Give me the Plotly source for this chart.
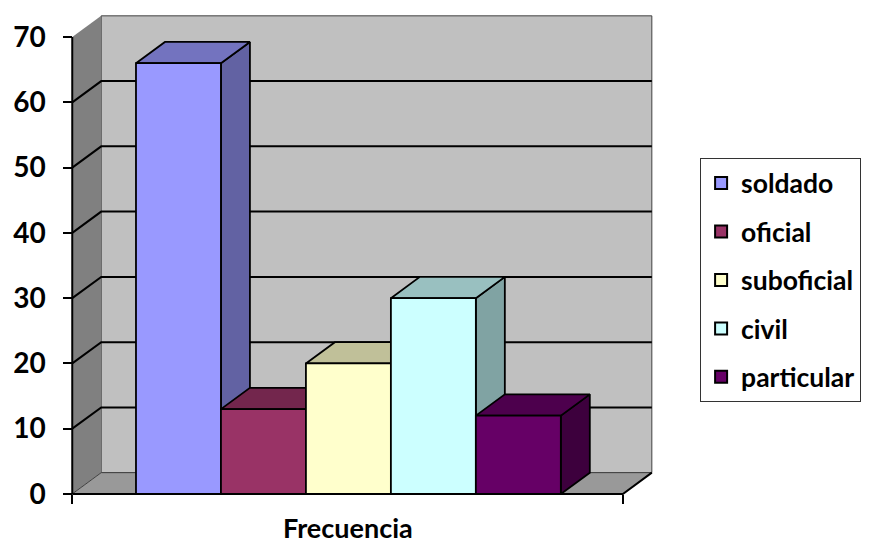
import plotly.graph_objects as go

# Survey data: one column per occupation category
categories = ["soldado", "oficial", "suboficial", "civil", "particular"]
values = [66, 13, 20, 30, 12]
front_colors = ["#9999FF", "#993366", "#FFFFCC", "#CCFFFF", "#660066"]
top_colors = ["#7373BF", "#73264D", "#C0C099", "#99C0C0", "#4D004D"]
side_colors = ["#6262A3", "#5C1F3D", "#A3A382", "#80A3A3", "#3D003D"]
y_ticks = [0, 10, 20, 30, 40, 50, 60, 70]
x_title = "Frecuencia"

# 3-D box geometry (axis units)
X0, X1 = -1.25, 5.23      # front edges of the floor
DX, DY = 0.341, 3.26      # depth offset of the back wall
Y_TOP = 70
BAR_W = 1.0

FONT = "Lato"
fig = go.Figure()


def poly(xs, ys, fill, line_color="black", line_width=0.0):
    fig.add_trace(go.Scatter(
        x=xs + [xs[0]], y=ys + [ys[0]], mode="lines", fill="toself",
        fillcolor=fill, line=dict(color=line_color, width=line_width),
        hoverinfo="skip", showlegend=False))


# back wall, side wall and floor
poly([X0 + DX, X1 + DX, X1 + DX, X0 + DX], [DY, DY, Y_TOP + DY, Y_TOP + DY],
     "#C0C0C0", "#404040", 1)
poly([X0, X0 + DX, X0 + DX, X0], [0, DY, Y_TOP + DY, Y_TOP], "#808080")
poly([X0, X1, X1 + DX, X0 + DX], [0, 0, DY, DY], "#999999")

# gridlines running across the side wall and the back wall
gx, gy = [], []
for v in y_ticks[1:-1]:
    gx += [X0, X0 + DX, X1 + DX, None]
    gy += [v, v + DY, v + DY, None]
fig.add_trace(go.Scatter(x=gx, y=gy, mode="lines", line=dict(color="black", width=2),
                         hoverinfo="skip", showlegend=False))
fig.add_trace(go.Scatter(x=[X0, X0 + DX, X1 + DX], y=[0, DY, DY], mode="lines",
                         line=dict(color="#404040", width=1),
                         hoverinfo="skip", showlegend=False))

# front floor edges and value axis line
fig.add_trace(go.Scatter(x=[X0, X1, X1 + DX], y=[0, 0, DY], mode="lines",
                         line=dict(color="black", width=2),
                         hoverinfo="skip", showlegend=False))
fig.add_trace(go.Scatter(x=[X0, X0], y=[0, Y_TOP], mode="lines",
                         line=dict(color="black", width=2),
                         hoverinfo="skip", showlegend=False))

# columns, painted left to right: side, top, then front face
for i, (name, v) in enumerate(zip(categories, values)):
    xl, xr = i - BAR_W / 2, i + BAR_W / 2
    poly([xr, xr + DX, xr + DX, xr], [0, DY, v + DY, v], side_colors[i], "black", 1.8)
    poly([xl, xr, xr + DX, xl + DX], [v, v, v + DY, v + DY], top_colors[i], "black", 1.8)
    poly([xl, xr, xr, xl], [0, 0, v, v], front_colors[i], "black", 1.8)

# legend keys
for i, name in enumerate(categories):
    fig.add_trace(go.Scatter(
        x=[None], y=[None], mode="markers", name=name, legendgroup=name,
        marker=dict(symbol="square", size=15, color=front_colors[i],
                    line=dict(color="black", width=1.5))))

XR = [-1.3, 5.62]
YR = [-2, 74]
fig.update_layout(
    width=878, height=547,
    margin=dict(l=68, r=222, t=11, b=40),
    paper_bgcolor="white", plot_bgcolor="white",
    font=dict(family=FONT, color="black"),
    showlegend=True,
    legend=dict(
        x=1.075, y=0.703, xanchor="left", yanchor="top",
        bgcolor="white", bordercolor="#333333", borderwidth=1,
        font=dict(family=FONT, size=26.5, color="black", weight="bold"),
        tracegroupgap=11, itemsizing="constant"),
    xaxis=dict(range=XR, showgrid=False, zeroline=False, showline=False,
               anchor="free", position=(0 - YR[0]) / (YR[1] - YR[0]),
               tickmode="array", tickvals=[X0, X1], ticktext=["", ""],
               ticks="outside", ticklen=9, tickwidth=1.5, tickcolor="black"),
    yaxis=dict(range=YR, showgrid=False, zeroline=False, showline=False,
               anchor="free", position=(X0 - XR[0]) / (XR[1] - XR[0]),
               tickmode="array", tickvals=y_ticks,
               ticks="outside", ticklen=9, tickwidth=1.5, tickcolor="black",
               ticklabelstandoff=12,
               tickfont=dict(family=FONT, size=28, color="black", weight="bold")),
    annotations=[dict(
        text=x_title, x=(X0 + X1) / 2, xref="x", y=-0.0423, yref="paper",
        xanchor="center", yanchor="middle", showarrow=False,
        font=dict(family=FONT, size=27, color="black", weight="bold"))],
)

fig.write_html("out.html")
